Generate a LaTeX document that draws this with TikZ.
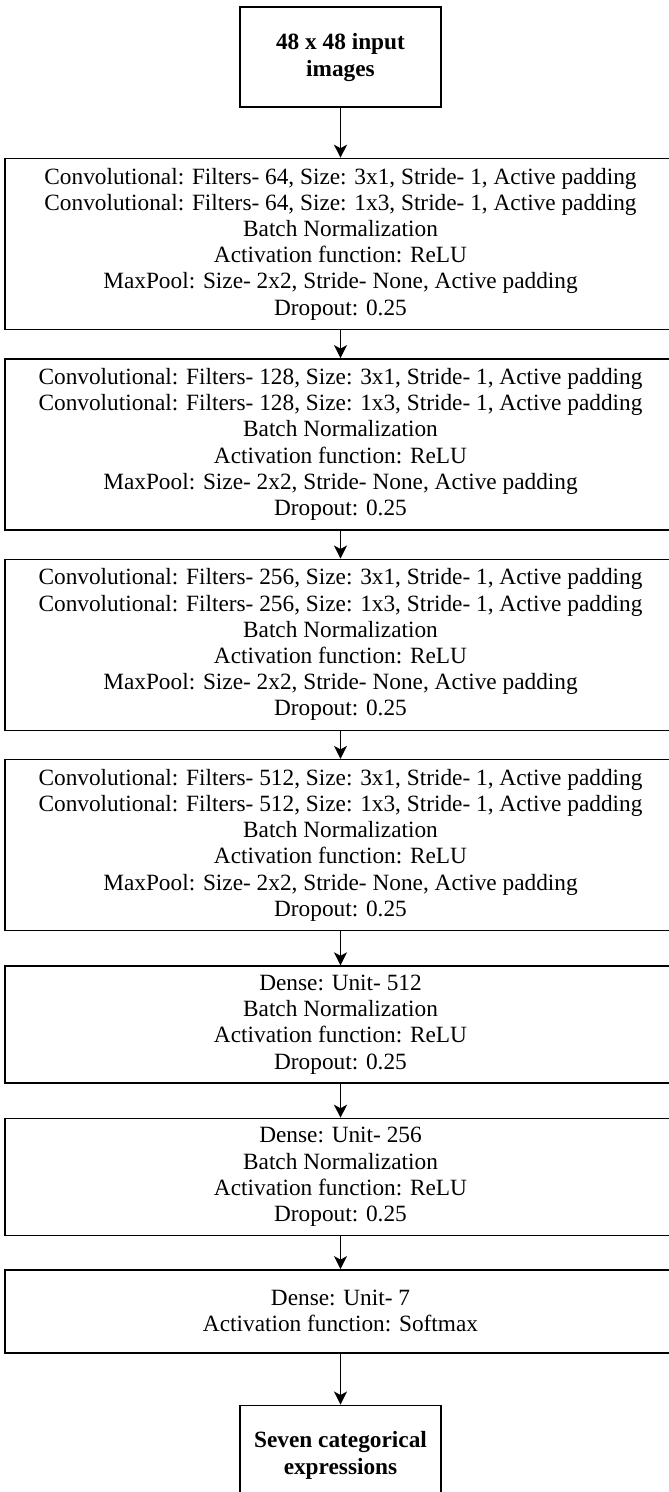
\documentclass[tikz,border=0pt]{standalone}
\usepackage{fontspec}
\setmainfont{Liberation Serif}
\usetikzlibrary{positioning,arrows.meta}

\begin{document}
\begin{tikzpicture}[->,>={Stealth[length=13pt,width=13pt,inset=3.5pt]},line width=1.4pt,
  x=1pt,y=1pt,
  every node/.style={font=\fontsize{23.3}{26.2}\selectfont},
  end node/.style={draw,rectangle,minimum width=201pt,minimum height=100pt,align=center,
    inner sep=0pt,font=\fontsize{23.3}{27}\selectfont\bfseries},
  layer node/.style={draw,rectangle,minimum width=671pt,minimum height=171pt,align=center,inner sep=0pt},
  dense node/.style={layer node,minimum height=117pt}]

  \useasboundingbox (0,0) rectangle (669,-1492);

  \node[end node] (input) at (340.5,-57) {48 x 48 input\\images};

  \node[layer node] (conv1) [below=50pt of input]
    {Convolutional: Filters- 64, Size: 3x1, Stride- 1, Active padding\\
     Convolutional: Filters- 64, Size: 1x3, Stride- 1, Active padding\\
     Batch Normalization\\ Activation function: ReLU\\
     MaxPool: Size- 2x2, Stride- None, Active padding\\ Dropout: 0.25};
  \node[layer node] (conv2) [below=28pt of conv1]
    {Convolutional: Filters- 128, Size: 3x1, Stride- 1, Active padding\\
     Convolutional: Filters- 128, Size: 1x3, Stride- 1, Active padding\\
     Batch Normalization\\ Activation function: ReLU\\
     MaxPool: Size- 2x2, Stride- None, Active padding\\ Dropout: 0.25};
  \node[layer node] (conv3) [below=28pt of conv2]
    {Convolutional: Filters- 256, Size: 3x1, Stride- 1, Active padding\\
     Convolutional: Filters- 256, Size: 1x3, Stride- 1, Active padding\\
     Batch Normalization\\ Activation function: ReLU\\
     MaxPool: Size- 2x2, Stride- None, Active padding\\ Dropout: 0.25};
  \node[layer node] (conv4) [below=28pt of conv3]
    {Convolutional: Filters- 512, Size: 3x1, Stride- 1, Active padding\\
     Convolutional: Filters- 512, Size: 1x3, Stride- 1, Active padding\\
     Batch Normalization\\ Activation function: ReLU\\
     MaxPool: Size- 2x2, Stride- None, Active padding\\ Dropout: 0.25};

  \node[dense node] (dense1) [below=34pt of conv4]
    {Dense: Unit- 512\\ Batch Normalization\\ Activation function: ReLU\\ Dropout: 0.25};
  \node[dense node] (dense2) [below=34pt of dense1]
    {Dense: Unit- 256\\ Batch Normalization\\ Activation function: ReLU\\ Dropout: 0.25};
  \node[dense node, minimum height=83pt] (dense3) [below=33pt of dense2]
    {Dense: Unit- 7\\ Activation function: Softmax};

  \node[end node] (output) [below=51pt of dense3] {Seven categorical\\expressions};

  \path
    (input) edge (conv1)
    (conv1) edge (conv2)
    (conv2) edge (conv3)
    (conv3) edge (conv4)
    (conv4) edge (dense1)
    (dense1) edge (dense2)
    (dense2) edge (dense3)
    (dense3) edge (output);
\end{tikzpicture}
\end{document}
